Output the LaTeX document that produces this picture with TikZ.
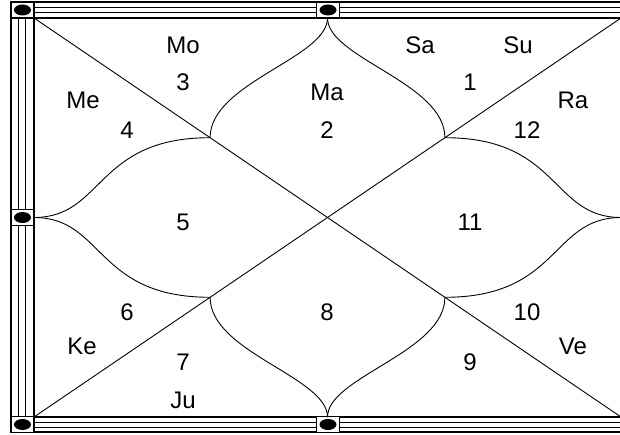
\documentclass[tikz,border=0pt]{standalone}
\usepackage{fontspec}
\setmainfont{Liberation Sans}
\begin{document}
\begin{tikzpicture}[x=1pt,y=-1pt,
  lbl/.style={font=\fontsize{24}{28}\selectfont,inner sep=0pt},
  edgeline/.style={line width=1.8pt},
  bandline/.style={line width=0.8pt},
  chartline/.style={line width=0.9pt},
  stud/.style={draw,line width=1.5pt,fill=white,minimum width=23pt,minimum height=16pt,inner sep=0pt}]

\useasboundingbox (0,0) rectangle (620,435);

\coordinate (tl) at (34,18);
\coordinate (tr) at (621,18);
\coordinate (bl) at (34,417);
\coordinate (br) at (621,417);
\coordinate (top) at (327.5,18);
\coordinate (bottom) at (327.5,417);
\coordinate (left) at (34,217.5);
\coordinate (right) at (621,217.5);
\coordinate (j1) at (210.1,137.7);
\coordinate (j2) at (444.9,137.7);
\coordinate (j3) at (210.1,297.3);
\coordinate (j4) at (444.9,297.3);

% frame
\draw[edgeline] (11,2) -- (620,2);
\draw[edgeline] (11,432) -- (620,432);
\draw[edgeline] (11,2) -- (11,432);
\foreach \y in {7.5,12.5,422,427}
  \draw[bandline] (34,\y) -- (620,\y);
\foreach \x in {18,25}
  \draw[bandline] (\x,18) -- (\x,417);
\draw[edgeline] (tl) rectangle (br);

\foreach \n/\x/\y in {s1/22.5/10,s2/328/10,s3/22.5/217.5,s4/22.5/424.5,s5/328/424.5} {
  \node[stud] (\n) at (\x,\y) {};
  \fill (\n.center) ellipse [x radius=8.5pt,y radius=5.5pt];
}

% chart
\draw[chartline] (tl) -- (br);
\draw[chartline] (bl) -- (tr);
\draw[chartline] (top) .. controls +(0,40) and +(0,-55) .. (j1);
\draw[chartline] (top) .. controls +(0,40) and +(0,-55) .. (j2);
\draw[chartline] (bottom) .. controls +(0,-40) and +(0,55) .. (j3);
\draw[chartline] (bottom) .. controls +(0,-40) and +(0,55) .. (j4);
\draw[chartline] (left) .. controls +(70,0) and +(-115,0) .. (j1);
\draw[chartline] (left) .. controls +(70,0) and +(-115,0) .. (j3);
\draw[chartline] (right) .. controls +(-70,0) and +(115,0) .. (j2);
\draw[chartline] (right) .. controls +(-70,0) and +(115,0) .. (j4);

\foreach \t/\x/\y in {Mo/183/45,3/183/82,Me/83/100,4/127/130,Ma/327/92,2/327/130,
  Sa/420/45,Su/518/45,1/470/82,Ra/573/100,12/527/130,5/183/222,11/470/222,
  6/127/312,8/327/312,10/527/312,Ke/82/346,Ve/573/346,7/183/362,9/470/362,Ju/183/400}
  \node[lbl] (h\t) at (\x,\y) {\t};
\end{tikzpicture}
\end{document}
